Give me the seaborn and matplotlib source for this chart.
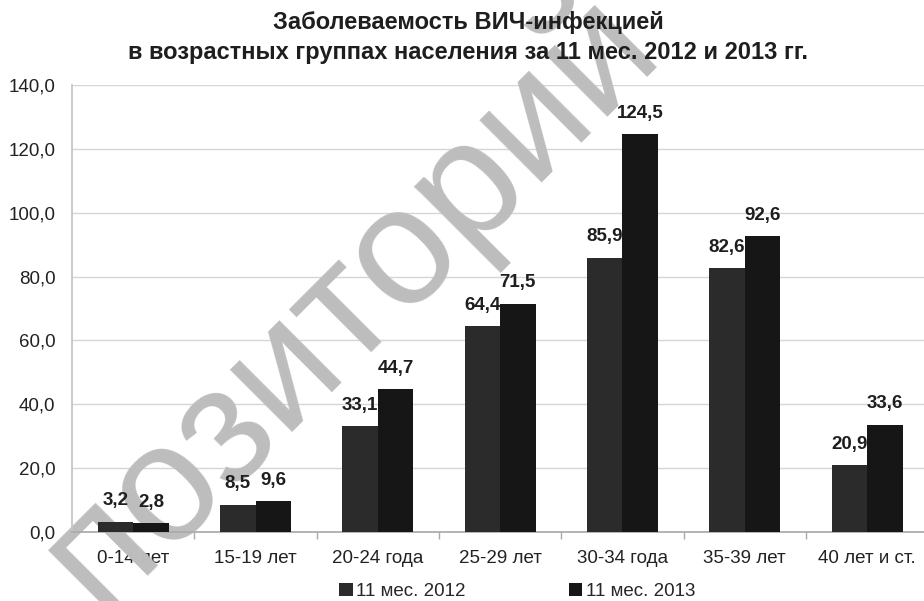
import numpy as np
import pandas as pd
import matplotlib
matplotlib.use("Agg")
import matplotlib.pyplot as plt
import seaborn as sns

groups = ['0-14 лет', '15-19 лет', '20-24 года', '25-29 лет', '30-34 года', '35-39 лет', '40 лет и ст.']
series_names = ['11 мес. 2012', '11 мес. 2013']
values_2012 = [3.2, 8.5, 33.1, 64.4, 85.9, 82.6, 20.9]
values_2013 = [2.8, 9.6, 44.7, 71.5, 124.5, 92.6, 33.6]
yticks = [0, 20, 40, 60, 80, 100, 120, 140]

df = pd.DataFrame({
    'group': groups * 2,
    'period': [series_names[0]] * len(groups) + [series_names[1]] * len(groups),
    'value': values_2012 + values_2013,
})

sns.set_theme(style='white')
plt.rcParams['font.family'] = ['Liberation Sans', 'DejaVu Sans']

fig = plt.figure(figsize=(9.24, 6.01), dpi=100)
ax = fig.add_axes([0.078, 0.1148, 0.9266, 0.7438])

sns.barplot(data=df, x='group', y='value', hue='period', order=groups,
            hue_order=series_names, palette=['#2b2b2b', '#161616'],
            width=0.58, gap=0, saturation=1, edgecolor='none', ax=ax, zorder=3)

# data labels (drawn under the bars, as in the original)
for cont in ax.containers:
    labels = [f'{b.get_height():.1f}'.replace('.', ',') for b in cont]
    ax.bar_label(cont, labels=labels, padding=9, fontsize=13.5, fontweight='bold',
                 color='#1e1e1e', zorder=2)

ax.set_ylim(0, 140)
ax.set_yticks(yticks)
ax.set_yticklabels([f'{t:.1f}'.replace('.', ',') for t in yticks], fontsize=13.5, color='#222222')
ax.set_xlim(-0.5, len(groups) - 0.5)
ax.set_xticks(range(len(groups)))
ax.set_xticklabels(groups, fontsize=13.5, color='#222222')
ax.set_xticks(np.arange(-0.5, len(groups), 1.0), minor=True)
ax.tick_params(axis='x', which='major', length=0, pad=13)
ax.tick_params(axis='x', which='minor', bottom=True, length=5, width=1, color='#aaaaaa')
ax.tick_params(axis='y', length=0, pad=12)

ax.yaxis.grid(True, color='#d6d6d6', lw=1)
ax.set_axisbelow(True)
for s in ['top', 'right']:
    ax.spines[s].set_visible(False)
ax.spines['left'].set_color('#c4c4c4')
ax.spines['bottom'].set_color('#aaaaaa')
ax.set_xlabel('')
ax.set_ylabel('')

fig.text(0.507, 1 - 23 / 601, 'Заболеваемость ВИЧ-инфекцией', ha='center', va='center',
         fontsize=17, fontweight='bold', color='#1e1e1e')
fig.text(0.507, 1 - 52 / 601, 'в возрастных группах населения за 11 мес. 2012 и 2013 гг.',
         ha='center', va='center', fontsize=17, fontweight='bold', color='#1e1e1e')

ax.legend(loc='center', bbox_to_anchor=(0.52, -0.133), ncol=2, frameon=False,
          fontsize=13.5, handlelength=0.7, handleheight=0.7, handletextpad=0.2,
          columnspacing=5.5)

# watermark, behind bars and texts
ax.text(0.378, 0.5, 'позиторий', transform=fig.transFigure, fontsize=120, rotation=45,
        color='#bdbdbd', ha='center', va='center', zorder=1.5, clip_on=False)

fig.savefig('out.png', dpi=100)
